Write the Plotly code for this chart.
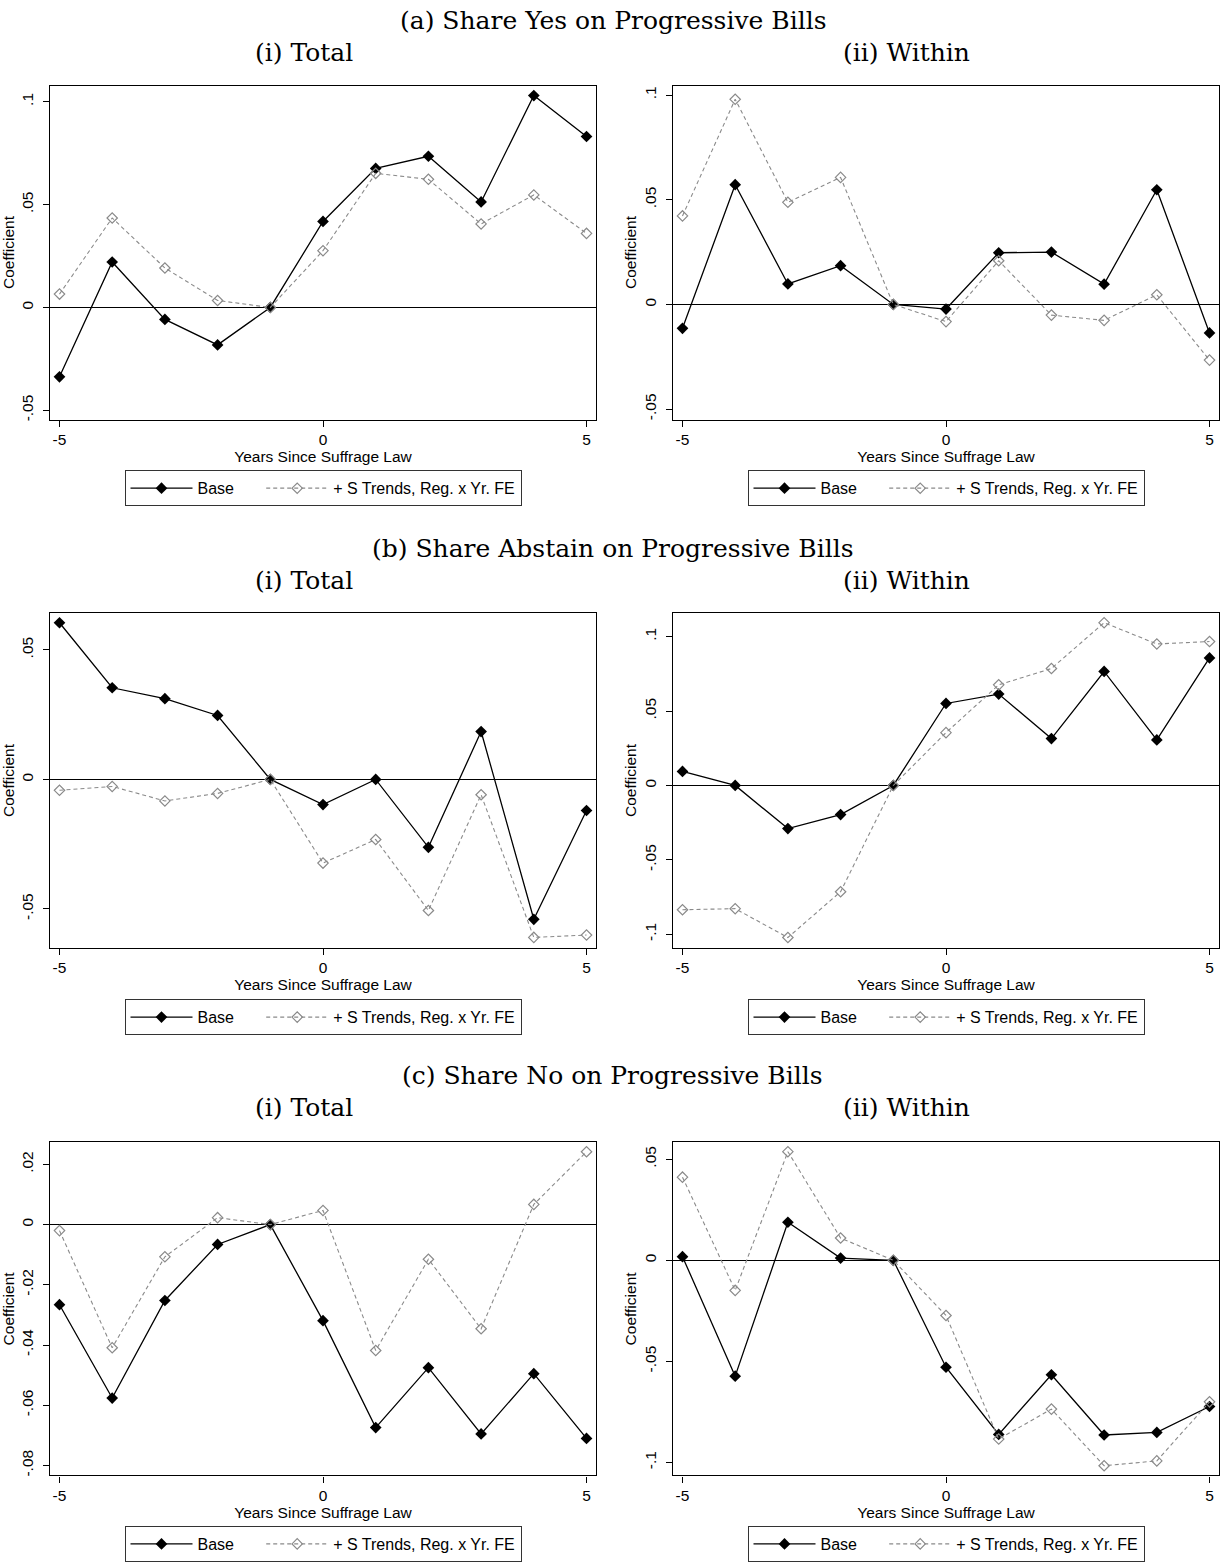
import plotly.graph_objects as go

W, H = 1225, 1562

years = [-5, -4, -3, -2, -1, 0, 1, 2, 3, 4, 5]

# (a) share yes
yes_total_base = [-0.0337, 0.0221, -0.0058, -0.0182, 0.0, 0.0418, 0.0676, 0.0735, 0.0513, 0.1030, 0.0831]
yes_total_trend = [0.0065, 0.0435, 0.0192, 0.0034, 0.0, 0.0276, 0.0652, 0.0623, 0.0406, 0.0547, 0.0360]
yes_within_base = [-0.0114, 0.0572, 0.0098, 0.0185, 0.0, -0.0022, 0.0247, 0.0250, 0.0097, 0.0548, -0.0136]
yes_within_trend = [0.0423, 0.0980, 0.0488, 0.0607, 0.0, -0.0082, 0.0209, -0.0051, -0.0076, 0.0046, -0.0266]

# (b) share abstain
abs_total_base = [0.0605, 0.0354, 0.0312, 0.0247, 0.0, -0.0097, 0.0, -0.0262, 0.0185, -0.0540, -0.0120]
abs_total_trend = [-0.0042, -0.0027, -0.0083, -0.0054, 0.0, -0.0323, -0.0232, -0.0506, -0.0059, -0.0610, -0.0601]
abs_within_base = [0.0094, 0.0, -0.0290, -0.0196, 0.0, 0.0551, 0.0614, 0.0315, 0.0766, 0.0306, 0.0857]
abs_within_trend = [-0.0835, -0.0828, -0.1022, -0.0714, 0.0, 0.0355, 0.0676, 0.0786, 0.1094, 0.0951, 0.0967]

# (c) share no
no_total_base = [-0.0266, -0.0576, -0.0252, -0.0066, 0.0, -0.0319, -0.0674, -0.0475, -0.0695, -0.0495, -0.0710]
no_total_trend = [-0.0020, -0.0409, -0.0107, 0.0023, 0.0, 0.0047, -0.0418, -0.0115, -0.0346, 0.0067, 0.0242]
no_within_base = [0.0018, -0.0573, 0.0188, 0.0011, 0.0, -0.0529, -0.0861, -0.0566, -0.0864, -0.0851, -0.0723]
no_within_trend = [0.0411, -0.0149, 0.0537, 0.0110, 0.0, -0.0273, -0.0884, -0.0736, -0.1016, -0.0992, -0.0700]

section_titles = ["(a) Share Yes on Progressive Bills",
                  "(b) Share Abstain on Progressive Bills",
                  "(c) Share No on Progressive Bills"]
sub_titles = ["(i) Total", "(ii) Within"]
# nbsp padding gives the Stata-like gap between the two legend keys
series_names = ["Base" + "\u00a0" * 5, "+ S Trends, Reg. x Yr. FE"]

ticks_05 = [-0.05, 0, 0.05, 0.1]
ticks_05_lbl = ["-.05", "0", ".05", ".1"]
ticks_b1 = [-0.05, 0, 0.05]
ticks_b1_lbl = ["-.05", "0", ".05"]
ticks_c1 = [-0.08, -0.06, -0.04, -0.02, 0, 0.02]
ticks_c1_lbl = ["-.08", "-.06", "-.04", "-.02", "0", ".02"]
ticks_c2 = [-0.1, -0.05, 0, 0.05]
ticks_c2_lbl = ["-.1", "-.05", "0", ".05"]
ticks_b2 = [-0.1, -0.05, 0, 0.05, 0.1]
ticks_b2_lbl = ["-.1", "-.05", "0", ".05", ".1"]

# (base, trend, tickvals, ticktext, yrange)
panels = [
    [(yes_total_base, yes_total_trend, ticks_05, ticks_05_lbl, [-0.0545, 0.1079]),
     (yes_within_base, yes_within_trend, ticks_05, ticks_05_lbl, [-0.055, 0.1046])],
    [(abs_total_base, abs_total_trend, ticks_b1, ticks_b1_lbl, [-0.0649, 0.0641]),
     (abs_within_base, abs_within_trend, ticks_b2, ticks_b2_lbl, [-0.1089, 0.1156])],
    [(no_total_base, no_total_trend, ticks_c1, ticks_c1_lbl, [-0.0833, 0.0273]),
     (no_within_base, no_within_trend, ticks_c2, ticks_c2_lbl, [-0.1064, 0.0583])],
]

# pixel layout
col_x = [(50, 596), (673, 1219)]
sub_x = [304, 906]
row_box = [(86, 422), (617, 953), (1149, 1484)]
row_title_y = [21, 552, 1082]
row_sub_y = [53, 584, 1114]
row_legend_y = [473, 1005, 1535]

SANS = "Liberation Sans"
SERIF = "DejaVu Serif"
FS = 15.5

fig = go.Figure()
layout = dict(width=W, height=H, margin=dict(l=0, r=0, t=0, b=0),
              paper_bgcolor="white", plot_bgcolor="white",
              font=dict(family=SANS, size=FS, color="black"), annotations=[])

k = 0
for r in range(3):
    for c in range(2):
        k += 1
        base, trend, tv, tt, yr = panels[r][c]
        xa = "x" if k == 1 else "x%d" % k
        ya = "y" if k == 1 else "y%d" % k
        lg = "legend" if k == 1 else "legend%d" % k
        fig.add_trace(go.Scatter(x=years, y=base, name=series_names[0], mode="lines+markers",
                                 line=dict(color="black", width=1.3),
                                 marker=dict(symbol="diamond", size=9, color="black"),
                                 xaxis=xa, yaxis=ya, legend=lg))
        fig.add_trace(go.Scatter(x=years, y=trend, name=series_names[1], mode="lines+markers",
                                 line=dict(color="#8a8a8a", width=1.1, dash="4px,3px"),
                                 marker=dict(symbol="diamond-open", size=8, color="#8a8a8a",
                                             line=dict(width=1.2, color="#8a8a8a")),
                                 xaxis=xa, yaxis=ya, legend=lg))
        x0, x1 = col_x[c]
        y0, y1 = row_box[r]
        xkey = "xaxis" if k == 1 else "xaxis%d" % k
        ykey = "yaxis" if k == 1 else "yaxis%d" % k
        layout[xkey] = dict(domain=[x0 / W, x1 / W], anchor=ya, range=[-5.18, 5.18],
                            tickvals=[-5, 0, 5], ticktext=["-5", "0", "5"],
                            showline=True, mirror=True, linecolor="black", linewidth=1.2,
                            ticks="outside", ticklen=6, tickcolor="black", tickwidth=1.2,
                            showgrid=False, zeroline=False,
                            title=dict(text="Years Since Suffrage Law", standoff=0,
                                       font=dict(family=SANS, size=FS)),
                            tickfont=dict(family=SANS, size=FS))
        layout[ykey] = dict(domain=[1 - y1 / H, 1 - y0 / H], anchor=xa, range=yr,
                            tickvals=tv, ticktext=tt, tickangle=-90, ticklabelstandoff=4,
                            showline=True, mirror=True, linecolor="black", linewidth=1.2,
                            ticks="outside", ticklen=6, tickcolor="black", tickwidth=1.2,
                            showgrid=False, zeroline=True, zerolinecolor="black",
                            zerolinewidth=1.4,
                            title=dict(text="Coefficient", standoff=1,
                                       font=dict(family=SANS, size=FS)),
                            tickfont=dict(family=SANS, size=FS))
        layout[lg] = dict(orientation="h", x=(x0 + x1) / 2 / W, xanchor="center",
                          y=1 - row_legend_y[r] / H, yanchor="top",
                          bordercolor="#333333", borderwidth=1, bgcolor="white",
                          itemwidth=62, font=dict(family=SANS, size=FS + 0.5))
        layout["annotations"].append(dict(text=sub_titles[c], x=sub_x[c] / W, y=1 - row_sub_y[r] / H,
                                          xref="paper", yref="paper", showarrow=False,
                                          xanchor="center", yanchor="middle",
                                          font=dict(family=SERIF, size=25)))
    layout["annotations"].append(dict(text=section_titles[r], x=0.5, y=1 - row_title_y[r] / H,
                                      xref="paper", yref="paper", showarrow=False,
                                      xanchor="center", yanchor="middle",
                                      font=dict(family=SERIF, size=25)))

fig.update_layout(**layout)
fig.write_html("out.html", config={"displayModeBar": False},
               post_script="document.body.style.margin='0';")
